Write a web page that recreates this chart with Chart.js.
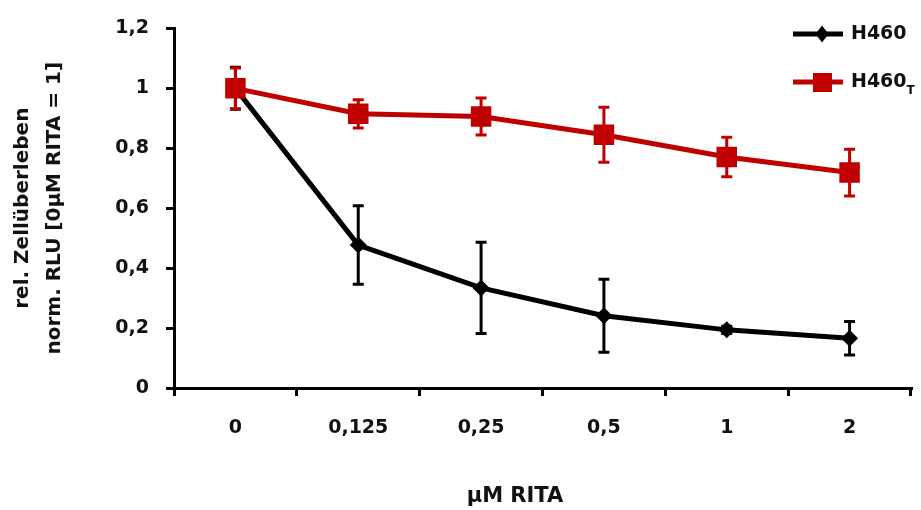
<!DOCTYPE html>
<html>
<head>
<meta charset="utf-8">
<script src="https://cdn.jsdelivr.net/npm/chart.js@4/dist/chart.umd.min.js"></script>
<style>
  body { margin: 0; background: #fff; }
  #wrap { width: 921px; height: 510px; }
</style>
</head>
<body>
<div id="wrap"><canvas id="chart" width="921" height="510"></canvas></div>
<script>
// values
const categories = ['0', '0,125', '0,25', '0,5', '1', '2'];
const h460 = [1.0, 0.477, 0.334, 0.241, 0.194, 0.166];
const h460Err = [0.07, 0.131, 0.152, 0.122, 0.012, 0.056];
const h460T = [1.0, 0.915, 0.906, 0.845, 0.771, 0.719];
const h460TErr = [0.068, 0.047, 0.062, 0.092, 0.066, 0.078];
const yTicks = [0, 0.2, 0.4, 0.6, 0.8, 1, 1.2];
const yTickLabels = ['0', '0,2', '0,4', '0,6', '0,8', '1', '1,2'];

const BLACK = '#000000';
const RED = '#c00000';
const TEXT = '#111111';
const FONT = 'DejaVu Sans';

// error bars drawn right after each dataset so the layering stays like the original
const errorBars = {
    id: 'errorBars',
    afterDatasetDraw(chart, args) {
        let ds = chart.data.datasets[args.index];
        if (!ds.errors) return;
        let ctx = chart.ctx;
        let y = chart.scales.y;
        ctx.save();
        ctx.strokeStyle = ds.borderColor;
        ctx.lineWidth = 3;
        args.meta.data.forEach(function(pt, i) {
            let top = y.getPixelForValue(ds.data[i] + ds.errors[i]);
            let bottom = y.getPixelForValue(ds.data[i] - ds.errors[i]);
            ctx.beginPath();
            ctx.moveTo(pt.x, top);
            ctx.lineTo(pt.x, bottom);
            ctx.moveTo(pt.x - 5.5, top);
            ctx.lineTo(pt.x + 5.5, top);
            ctx.moveTo(pt.x - 5.5, bottom);
            ctx.lineTo(pt.x + 5.5, bottom);
            ctx.stroke();
        });
        ctx.restore();
    }
};

// legend top right + x axis title
const extras = {
    id: 'extras',
    afterDraw(chart) {
        let ctx = chart.ctx;
        ctx.save();
        ctx.lineWidth = 5;
        // H460
        ctx.strokeStyle = BLACK;
        ctx.beginPath();
        ctx.moveTo(793, 34);
        ctx.lineTo(843, 34);
        ctx.stroke();
        ctx.fillStyle = BLACK;
        ctx.beginPath();
        ctx.moveTo(822, 25.5);
        ctx.lineTo(828.5, 34);
        ctx.lineTo(822, 42.5);
        ctx.lineTo(815.5, 34);
        ctx.closePath();
        ctx.fill();
        // H460T
        ctx.strokeStyle = RED;
        ctx.beginPath();
        ctx.moveTo(793, 82);
        ctx.lineTo(843, 82);
        ctx.stroke();
        ctx.fillStyle = RED;
        ctx.fillRect(813, 73, 19, 19);

        ctx.fillStyle = TEXT;
        ctx.font = 'bold 19px "' + FONT + '"';
        ctx.textBaseline = 'middle';
        ctx.textAlign = 'left';
        ctx.fillText('H460', 851, 34);
        ctx.fillText('H460', 851, 82);
        let w = ctx.measureText('H460').width;
        ctx.font = 'bold 12px "' + FONT + '"';
        ctx.fillText('T', 851 + w, 91);

        // x axis title
        ctx.font = 'bold 21px "' + FONT + '"';
        ctx.textAlign = 'center';
        ctx.fillText('µM RITA', 515, 497);
        ctx.restore();
    }
};

new Chart(document.getElementById('chart'), {
    type: 'line',
    data: {
        labels: categories,
        datasets: [{
            label: 'H460',
            data: h460,
            errors: h460Err,
            borderColor: BLACK,
            backgroundColor: BLACK,
            borderWidth: 5,
            pointStyle: 'rectRot',
            pointRadius: 8.5,
            pointBorderWidth: 0,
            tension: 0,
            order: 1
        }, {
            label: 'H460T',
            data: h460T,
            errors: h460TErr,
            borderColor: RED,
            backgroundColor: RED,
            borderWidth: 5,
            pointStyle: 'rect',
            pointRadius: 14.5,
            pointBorderWidth: 0,
            tension: 0,
            order: 0
        }]
    },
    options: {
        responsive: false,
        animation: false,
        layout: { autoPadding: false, padding: { top: 24, right: 10, left: 0, bottom: 0 } },
        plugins: {
            legend: { display: false },
            tooltip: { enabled: false }
        },
        scales: {
            x: {
                offset: true,
                grid: {
                    offset: true,
                    drawOnChartArea: false,
                    drawTicks: true,
                    tickLength: 8,
                    tickWidth: 3,
                    tickColor: BLACK,
                    lineWidth: 3,
                    color: BLACK
                },
                border: { display: true, color: BLACK, width: 3 },
                ticks: {
                    color: TEXT,
                    padding: 21,
                    font: { family: FONT, weight: 'bold', size: 19 }
                },
                afterFit: function(scale) { scale.height = 122; }
            },
            y: {
                min: 0,
                max: 1.2,
                afterBuildTicks: function(scale) {
                    scale.ticks = yTicks.map(v => ({ value: v }));
                },
                grid: {
                    drawOnChartArea: false,
                    drawTicks: true,
                    tickLength: 8,
                    tickWidth: 3,
                    tickColor: BLACK,
                    lineWidth: 3,
                    color: BLACK
                },
                border: { display: true, color: BLACK, width: 3 },
                ticks: {
                    color: TEXT,
                    padding: 17,
                    font: { family: FONT, weight: 'bold', size: 19 },
                    callback: function(value, index) { return yTickLabels[index]; }
                },
                title: {
                    display: true,
                    text: ['rel. Zellüberleben', 'norm. RLU [0µM RITA = 1]'],
                    color: TEXT,
                    font: { family: FONT, weight: 'bold', size: 20, lineHeight: 1.6 },
                    padding: { top: 7, bottom: 0 }
                },
                afterFit: function(scale) { scale.width = 174; }
            }
        }
    },
    plugins: [errorBars, extras]
});
</script>
</body>
</html>
